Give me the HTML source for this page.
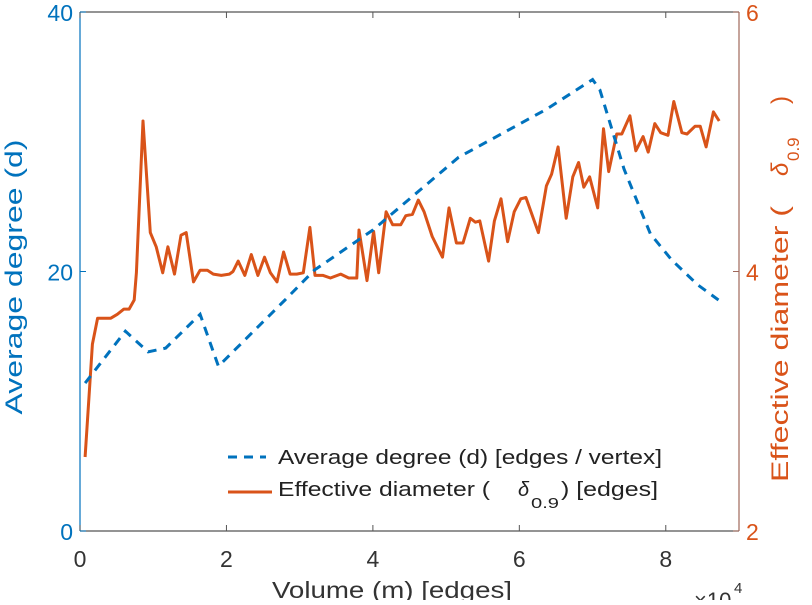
<!DOCTYPE html>
<html><head><meta charset="utf-8"><style>
body{margin:0;background:#fff;}
svg{font-family:"Liberation Sans",sans-serif;}
</style></head><body>
<svg id="chart" width="812" height="600" viewBox="0 0 812 600">
<g id="axes"></g>
<g id="series"></g>
<g>
  <line x1="228" y1="457" x2="266" y2="457" stroke="#0072BD" stroke-width="3" stroke-dasharray="9,7"/>
  <text x="278" y="464" font-size="20" fill="#222" textLength="384" lengthAdjust="spacingAndGlyphs">Average degree (d) [edges / vertex]</text>
  <line x1="228" y1="492" x2="272" y2="492" stroke="#D95319" stroke-width="3"/>
  <text x="278" y="496" font-size="20" fill="#222" textLength="212" lengthAdjust="spacingAndGlyphs">Effective diameter (</text>
  <text x="518" y="496" font-size="20" font-style="italic" fill="#222">δ</text>
  <text x="531" y="508" font-size="15" fill="#222" textLength="28" lengthAdjust="spacingAndGlyphs">0.9</text>
  <text x="561" y="496" font-size="20" fill="#222" textLength="97" lengthAdjust="spacingAndGlyphs">) [edges]</text>
</g>
<text x="0" y="0" transform="translate(22,277) rotate(-90)" text-anchor="middle" font-size="24" fill="#0072BD" textLength="275" lengthAdjust="spacingAndGlyphs">Average degree (d)</text>
<g transform="translate(788,482) rotate(-90)">
  <text x="0" y="0" font-size="24" fill="#D95319" textLength="276" lengthAdjust="spacingAndGlyphs">Effective diameter (</text>
  <text x="306" y="0" font-size="24" font-style="italic" fill="#D95319">δ</text>
  <text x="321" y="11" font-size="17" fill="#D95319">0.9</text>
  <text x="378" y="0" font-size="24" fill="#D95319">)</text>
</g>
<text x="392" y="598" text-anchor="middle" font-size="23" fill="#333" textLength="240" lengthAdjust="spacingAndGlyphs">Volume (m) [edges]</text>
<text x="694" y="608" font-size="22" fill="#333">×10</text>
<text x="734" y="593" font-size="15" fill="#333">4</text>
</svg>
<script>
const xTicks=[0,2,4,6,8];
const leftTicks=[0,20,40];
const rightTicks=[2,4,6];
const degreeX=[0.07,0.62,0.93,1.17,1.64,1.89,2.8,3.2,4.0,5.17,6.37,7.0,7.1,7.43,7.79,8.08,8.43,8.72];
const degreeY=[11.4,15.4,13.8,14.1,16.7,12.7,17.8,20.1,23.2,28.8,32.5,34.8,34.0,27.9,22.9,20.9,19.0,17.8];
const diamX=[0.07,0.17,0.24,0.33,0.42,0.51,0.60,0.67,0.74,0.77,0.86,0.96,1.04,1.13,1.20,1.29,1.38,1.45,1.55,1.64,1.74,1.82,1.93,2.04,2.09,2.16,2.25,2.34,2.43,2.52,2.60,2.69,2.78,2.87,2.96,3.05,3.14,3.21,3.32,3.42,3.56,3.67,3.78,3.81,3.92,4.01,4.08,4.18,4.27,4.38,4.45,4.54,4.62,4.70,4.81,4.95,5.04,5.14,5.23,5.33,5.40,5.46,5.58,5.66,5.75,5.84,5.93,6.02,6.09,6.26,6.37,6.44,6.53,6.64,6.73,6.81,6.88,6.96,7.07,7.15,7.22,7.33,7.40,7.51,7.59,7.69,7.76,7.85,7.93,8.03,8.11,8.22,8.29,8.40,8.47,8.55,8.65,8.73];
const diamY=[2.57,3.44,3.64,3.64,3.64,3.67,3.71,3.71,3.78,3.99,5.16,4.30,4.19,3.99,4.19,3.98,4.28,4.30,3.92,4.01,4.01,3.98,3.97,3.98,4.00,4.08,3.97,4.13,3.97,4.11,3.99,3.92,4.15,3.98,3.98,3.99,4.34,3.97,3.97,3.95,3.98,3.95,3.95,4.32,3.93,4.31,3.99,4.46,4.36,4.36,4.43,4.44,4.55,4.46,4.27,4.11,4.49,4.22,4.22,4.41,4.38,4.39,4.08,4.39,4.56,4.23,4.46,4.56,4.57,4.30,4.66,4.75,4.96,4.41,4.73,4.84,4.65,4.73,4.49,5.10,4.77,5.06,5.06,5.20,4.93,5.04,4.92,5.14,5.07,5.05,5.31,5.07,5.06,5.12,5.12,4.96,5.23,5.16];

const L=80,R=739,T=12,B=531;
const xs=v=>L+(v-0)/9*(R-L);
const yl=v=>B-(v/40)*(B-T);
const yr=v=>B-((v-2)/4)*(B-T);
const NS="http://www.w3.org/2000/svg";
function mk(tag,attrs,parent){const e=document.createElementNS(NS,tag);for(const k in attrs)e.setAttribute(k,attrs[k]);parent.appendChild(e);return e;}
const ax=document.getElementById('axes');
let e;
e=mk('line',{x1:L,y1:T,x2:R,y2:T,stroke:'#555','stroke-width':1.2},ax);


e=mk('line',{x1:L,y1:B,x2:R,y2:B,stroke:'#555','stroke-width':1.2},ax);


e=mk('line',{x1:L,y1:T,x2:L,y2:B,stroke:'#0072BD','stroke-width':1.2},ax);


e=mk('line',{x1:R,y1:T,x2:R,y2:B,stroke:'#A0675A','stroke-width':1.2},ax);


xTicks.forEach(t=>{
  const x=xs(t);
  mk('line',{x1:x,y1:B,x2:x,y2:B-6,stroke:'#555'},ax);
  mk('line',{x1:x,y1:T,x2:x,y2:T+6,stroke:'#555'},ax);
  const tx=mk('text',{x:x,y:B+36,'text-anchor':'middle','font-size':23,fill:'#333'},ax);
  tx.textContent=t;
  
  
});
leftTicks.forEach(t=>{
  const y=yl(t);
  mk('line',{x1:L,y1:y,x2:L+6,y2:y,stroke:'#0072BD'},ax);
  const tx=mk('text',{x:L-7,y:y+9,'text-anchor':'end','font-size':23,fill:'#0072BD'},ax);
  tx.textContent=t;
  
  
});
rightTicks.forEach(t=>{
  const y=yr(t);
  mk('line',{x1:R,y1:y,x2:R-6,y2:y,stroke:'#A0675A'},ax);
  const tx=mk('text',{x:R+7,y:y+9,'font-size':23,fill:'#D95319'},ax);
  tx.textContent=t;
  
  
});
const sg=document.getElementById('series');
const dpts=diamX.map((x,i)=>xs(x).toFixed(1)+','+yr(diamY[i]).toFixed(1)).join(' ');
e=mk('polyline',{points:dpts,fill:'none',stroke:'#D95319','stroke-width':3,'stroke-linejoin':'round'},sg);


const bpts=degreeX.map((x,i)=>xs(x).toFixed(1)+','+yl(degreeY[i]).toFixed(1)).join(' ');
e=mk('polyline',{points:bpts,fill:'none',stroke:'#0072BD','stroke-width':3,'stroke-dasharray':'9,7'},sg);


</script>
</body></html>
